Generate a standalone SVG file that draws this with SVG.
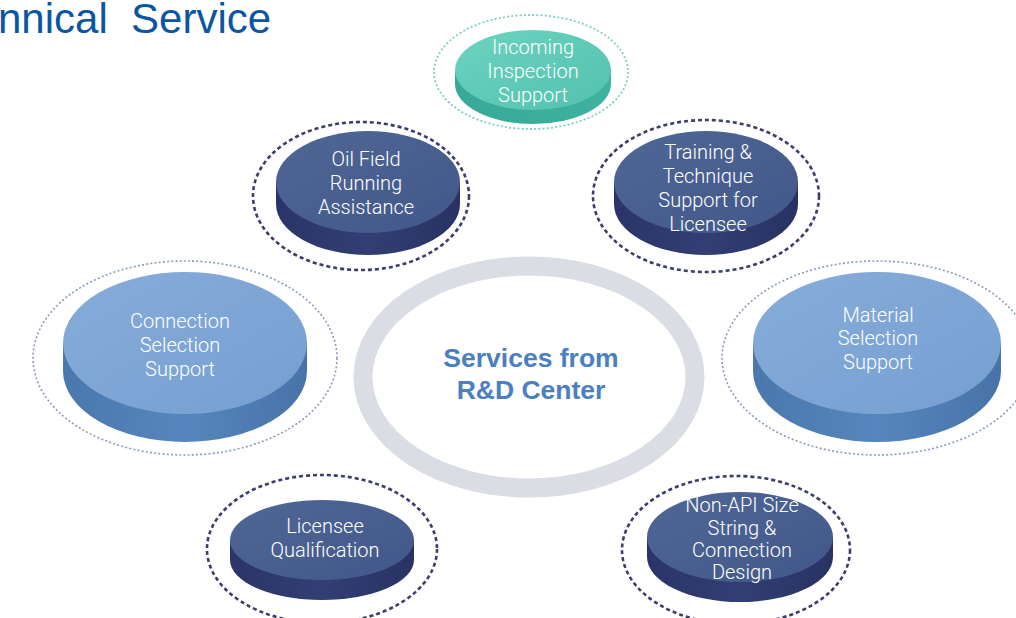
<svg xmlns="http://www.w3.org/2000/svg" width="1016" height="618" viewBox="0 0 1016 618">
<defs>
<linearGradient id="gDark" x1="0" y1="0" x2="1" y2="1"><stop offset="0" stop-color="#4f6795"/><stop offset="1" stop-color="#42578a"/></linearGradient>
<linearGradient id="gDarkSide" x1="0" y1="0" x2="1" y2="0"><stop offset="0" stop-color="#2a3468"/><stop offset="0.5" stop-color="#323f74"/><stop offset="1" stop-color="#283263"/></linearGradient>
<linearGradient id="gLight" x1="0" y1="0" x2="1" y2="1"><stop offset="0" stop-color="#86acd9"/><stop offset="1" stop-color="#769fd1"/></linearGradient>
<linearGradient id="gLightSide" x1="0" y1="0" x2="1" y2="0"><stop offset="0" stop-color="#4a78ad"/><stop offset="0.5" stop-color="#5686bd"/><stop offset="1" stop-color="#4773a8"/></linearGradient>
<linearGradient id="gTeal" x1="0" y1="0" x2="1" y2="1"><stop offset="0" stop-color="#6dd3c0"/><stop offset="1" stop-color="#52c2ae"/></linearGradient>
<linearGradient id="gTealSide" x1="0" y1="0" x2="1" y2="0"><stop offset="0" stop-color="#37a996"/><stop offset="1" stop-color="#3fb3a0"/></linearGradient>
</defs>
<style>
.lbl{font-family:"Helvetica Neue",Roboto,"Liberation Sans",sans-serif;font-weight:300;font-size:20px;fill:#ffffff;text-anchor:middle}
.ringD{fill:none;stroke:#3b3d6c;stroke-width:2.6;stroke-dasharray:4 3}
.ringL{fill:none;stroke:#8a9abb;stroke-width:1.6;stroke-dasharray:2 2.2}
.ringT{fill:none;stroke:#7ccfc4;stroke-width:1.8;stroke-dasharray:2 2.2}
.center{font-family:"Liberation Sans",Arial,sans-serif;font-weight:bold;font-size:26.5px;fill:#4a7fc1;text-anchor:middle}
</style>
<rect width="1016" height="618" fill="#ffffff"/>
<text x="-2" y="33" font-family="'Liberation Sans',Arial,sans-serif" font-size="42" fill="#0a56a3" xml:space="preserve">nnical  Service</text>

<g id="center-hub">
<ellipse cx="529" cy="377" rx="166" ry="111" fill="#ffffff" stroke="#dadde3" stroke-width="19"/>
<text class="center" x="531" y="367">Services from</text>
<text class="center" x="531" y="399">R&amp;D Center</text>
</g>

<g id="connectors"></g>

<g id="incoming-inspection">
<ellipse class="ringT" cx="531" cy="72" rx="97" ry="57"/>
<path d="M455 70 L455 84 A78 40 0 0 0 611 84 L611 70 Z" fill="url(#gTealSide)"/>
<ellipse cx="533" cy="70" rx="78" ry="40" fill="url(#gTeal)"/>
<text class="lbl" x="533" y="54">Incoming</text>
<text class="lbl" x="533" y="78">Inspection</text>
<text class="lbl" x="533" y="102">Support</text>
</g>

<g id="oil-field">
<ellipse class="ringD" cx="361" cy="196" rx="108" ry="74"/>
<path d="M276 182 L276 204 A92 51 0 0 0 460 204 L460 182 Z" fill="url(#gDarkSide)"/>
<ellipse cx="368" cy="182" rx="92" ry="51" fill="url(#gDark)"/>
<text class="lbl" x="366" y="166">Oil Field</text>
<text class="lbl" x="366" y="190">Running</text>
<text class="lbl" x="366" y="214">Assistance</text>
</g>

<g id="training">
<ellipse class="ringD" cx="706" cy="196" rx="113" ry="76"/>
<path d="M614 182 L614 204 A92 51 0 0 0 798 204 L798 182 Z" fill="url(#gDarkSide)"/>
<ellipse cx="706" cy="182" rx="92" ry="51" fill="url(#gDark)"/>
<text class="lbl" x="708" y="159">Training &amp;</text>
<text class="lbl" x="708" y="183">Technique</text>
<text class="lbl" x="708" y="207">Support for</text>
<text class="lbl" x="708" y="231">Licensee</text>
</g>

<g id="connection-selection">
<ellipse class="ringL" cx="185" cy="358" rx="152" ry="97"/>
<path d="M63 343 L63 371 A122 71 0 0 0 307 371 L307 343 Z" fill="url(#gLightSide)"/>
<ellipse cx="185" cy="343" rx="122" ry="71" fill="url(#gLight)"/>
<text class="lbl" x="180" y="328">Connection</text>
<text class="lbl" x="180" y="352">Selection</text>
<text class="lbl" x="180" y="376">Support</text>
</g>

<g id="material-selection">
<ellipse class="ringL" cx="877" cy="358" rx="155" ry="97"/>
<path d="M753 343 L753 371 A124 71 0 0 0 1001 371 L1001 343 Z" fill="url(#gLightSide)"/>
<ellipse cx="877" cy="343" rx="124" ry="71" fill="url(#gLight)"/>
<text class="lbl" x="878" y="322">Material</text>
<text class="lbl" x="878" y="345">Selection</text>
<text class="lbl" x="878" y="369">Support</text>
</g>

<g id="licensee-qualification">
<ellipse class="ringD" cx="322" cy="549" rx="115" ry="74"/>
<path d="M230 540 L230 560 A92 40 0 0 0 414 560 L414 540 Z" fill="url(#gDarkSide)"/>
<ellipse cx="322" cy="540" rx="92" ry="40" fill="url(#gDark)"/>
<text class="lbl" x="325" y="533">Licensee</text>
<text class="lbl" x="325" y="557">Qualification</text>
</g>

<g id="non-api">
<ellipse class="ringD" cx="736" cy="550" rx="114" ry="74"/>
<path d="M647 537 L647 557 A93 45 0 0 0 833 557 L833 537 Z" fill="url(#gDarkSide)"/>
<ellipse cx="740" cy="537" rx="93" ry="45" fill="url(#gDark)"/>
<text class="lbl" x="742" y="512">Non-API Size</text>
<text class="lbl" x="742" y="535">String &amp;</text>
<text class="lbl" x="742" y="557">Connection</text>
<text class="lbl" x="742" y="579">Design</text>
</g>
</svg>
